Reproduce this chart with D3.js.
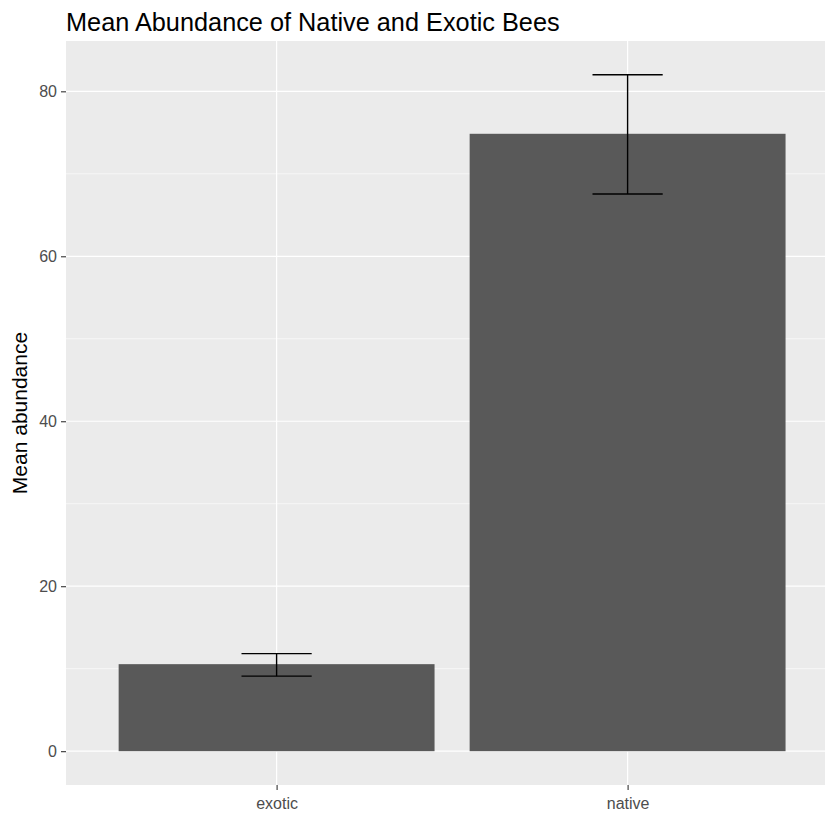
<!DOCTYPE html>
<html>
<head>
<meta charset="utf-8">
<script src="https://cdn.jsdelivr.net/npm/d3@7"></script>
<style>
  html, body { margin: 0; padding: 0; background: #fff; }
  svg { display: block; font-family: "Liberation Sans", Arial, sans-serif; }
</style>
</head>
<body>
<svg id="chart" width="825" height="813"></svg>
<script>
const categories = ["exotic", "native"];
const meanValues = [10.55, 74.85];
const errLower = [9.1, 67.55];
const errUpper = [11.83, 82.0];
const yTicks = [0, 20, 40, 60, 80];
const yMinor = [10, 30, 50, 70];
const titleText = "Mean Abundance of Native and Exotic Bees";
const yLabel = "Mean abundance";

const W = 825, H = 813;
const panel = { left: 66, top: 41, bottom: 785 };
const unit = 351; // px per discrete unit
const panelRight = panel.left + 2.2 * unit;

const svg = d3.select("#chart");

const x = d3.scaleLinear().domain([0.4, categories.length + 0.6]).range([panel.left, panelRight]);
const ymax = d3.max(errUpper), ymin = 0;
const pad = (ymax - ymin) * 0.05;
const y = d3.scaleLinear().domain([ymin - pad, ymax + pad]).range([panel.bottom, panel.top]);

svg.append("defs").append("clipPath").attr("id", "clip")
  .append("rect").attr("x", panel.left).attr("y", panel.top)
  .attr("width", panelRight - panel.left).attr("height", panel.bottom - panel.top);

const g = svg.append("g").attr("clip-path", "url(#clip)");
g.append("rect").attr("x", panel.left).attr("y", panel.top)
  .attr("width", panelRight - panel.left).attr("height", panel.bottom - panel.top)
  .attr("fill", "#ebebeb");

g.selectAll(".minor").data(yMinor).join("line")
  .attr("x1", panel.left).attr("x2", panelRight)
  .attr("y1", d => y(d)).attr("y2", d => y(d))
  .attr("stroke", "#fff").attr("stroke-width", 0.6);
g.selectAll(".major").data(yTicks).join("line")
  .attr("x1", panel.left).attr("x2", panelRight)
  .attr("y1", d => y(d)).attr("y2", d => y(d))
  .attr("stroke", "#fff").attr("stroke-width", 1.2);
g.selectAll(".vmajor").data(categories).join("line")
  .attr("x1", (d, i) => x(i + 1)).attr("x2", (d, i) => x(i + 1))
  .attr("y1", panel.top).attr("y2", panel.bottom)
  .attr("stroke", "#fff").attr("stroke-width", 1.2);

const bw = 0.9;
g.selectAll(".bar").data(categories).join("rect")
  .attr("x", (d, i) => x(i + 1 - bw / 2))
  .attr("width", (d, i) => x(i + 1 + bw / 2) - x(i + 1 - bw / 2))
  .attr("y", (d, i) => y(meanValues[i]))
  .attr("height", (d, i) => y(0) - y(meanValues[i]))
  .attr("fill", "#595959");

const ew = 0.2;
categories.forEach((c, i) => {
  const eg = g.append("g").attr("stroke", "#000").attr("stroke-width", 1.4).attr("fill", "none");
  eg.append("line").attr("x1", x(i + 1)).attr("x2", x(i + 1)).attr("y1", y(errLower[i])).attr("y2", y(errUpper[i]));
  eg.append("line").attr("x1", x(i + 1 - ew / 2)).attr("x2", x(i + 1 + ew / 2)).attr("y1", y(errUpper[i])).attr("y2", y(errUpper[i]));
  eg.append("line").attr("x1", x(i + 1 - ew / 2)).attr("x2", x(i + 1 + ew / 2)).attr("y1", y(errLower[i])).attr("y2", y(errLower[i]));
});

const yAxis = d3.axisLeft(y).tickValues(yTicks).tickSize(5).tickPadding(4).tickFormat(d3.format("d"));
const ya = svg.append("g").attr("transform", `translate(${panel.left},0)`).call(yAxis);
ya.select(".domain").remove();
ya.selectAll(".tick line").attr("stroke", "#333").attr("stroke-width", 1.1);
ya.selectAll(".tick text").attr("fill", "#4d4d4d").attr("font-size", 16).attr("font-family", "Liberation Sans, Arial, sans-serif");

const xAxis = d3.axisBottom(x).tickValues(categories.map((c, i) => i + 1))
  .tickFormat((d, i) => categories[i]).tickSize(5).tickPadding(8);
const xa = svg.append("g").attr("transform", `translate(0,${panel.bottom})`).call(xAxis);
xa.select(".domain").remove();
xa.selectAll(".tick line").attr("stroke", "#333").attr("stroke-width", 1.1);
xa.selectAll(".tick text").attr("fill", "#4d4d4d").attr("font-size", 16).attr("font-family", "Liberation Sans, Arial, sans-serif");

svg.append("text").attr("x", panel.left).attr("y", 31)
  .attr("font-size", 25.3).attr("fill", "#000").text(titleText);

svg.append("text")
  .attr("transform", `translate(27,${(panel.top + panel.bottom) / 2}) rotate(-90)`)
  .attr("text-anchor", "middle").attr("font-size", 21).attr("fill", "#000").text(yLabel);
</script>
</body>
</html>
